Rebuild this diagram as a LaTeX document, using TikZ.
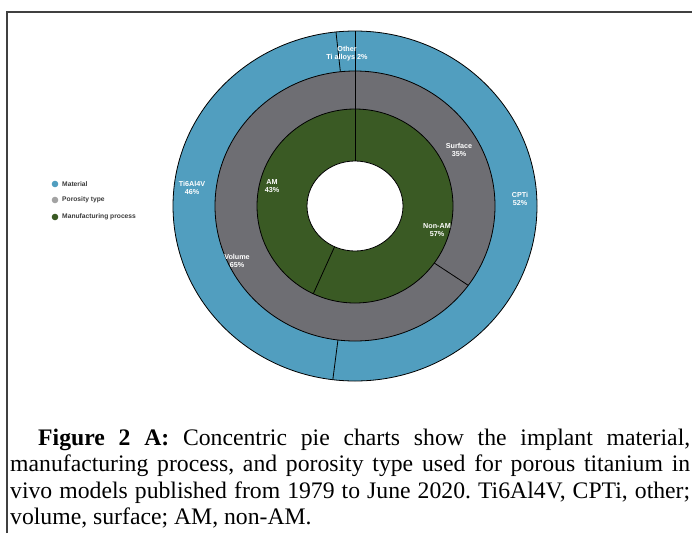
\documentclass[tikz,border=0pt]{standalone}
\usepackage{fontspec}
\setmainfont{Liberation Serif}
\newfontfamily\lsans{Liberation Sans}
\frenchspacing
\definecolor{matblue}{HTML}{519EBF}
\definecolor{porgray}{HTML}{6E6E73}
\definecolor{mangreen}{HTML}{3A5A24}
\definecolor{leggray}{HTML}{A3A3A3}
\definecolor{legtextc}{HTML}{3A3A3A}
\begin{document}
\begin{tikzpicture}[x=1pt,y=-1pt,
  seglabel/.style={text=white,font=\lsans\bfseries\fontsize{7.2}{8.2}\selectfont,align=center,inner sep=0pt},
  legtext/.style={text=legtextc,font=\lsans\bfseries\fontsize{6.7}{7.7}\selectfont,anchor=west,inner sep=0pt},
  legdot/.style={circle,inner sep=0pt,minimum size=6.6pt},
  divider/.style={black,line width=0.8pt},
  ringedge/.style={draw=black,line width=0.8pt},
  frameline/.style={black!75,line width=1.4pt},
  captext/.style={anchor=base west,inner sep=0pt,font=\fontsize{23.7pt}{26.5pt}\selectfont}]
\useasboundingbox (0,0) rectangle (692,533);
% frame
\coordinate (fl) at (7,533);
\coordinate (ftl) at (7,12);
\coordinate (ftr) at (692,12);
\draw[frameline] (fl) -- (ftl) -- (ftr);
% chart
\begin{scope}[shift={(355,206)}]
  \fill[matblue,ringedge] (0pt,0pt) ellipse[x radius=182pt,y radius=175pt];
  \fill[porgray,ringedge] (0pt,0pt) ellipse[x radius=140pt,y radius=135pt];
  \fill[mangreen,ringedge] (0pt,0pt) ellipse[x radius=98pt,y radius=97pt];
  \fill[white,ringedge] (0pt,0pt) ellipse[x radius=48pt,y radius=45pt];
  % material dividers
  \draw[divider] (90:140pt and 135pt) -- (90:182pt and 175pt);
  \draw[divider] (96:140pt and 135pt) -- (96:182pt and 175pt);
  \draw[divider] (-97:140pt and 135pt) -- (-97:182pt and 175pt);
  % porosity dividers
  \draw[divider] (90:98pt and 97pt) -- (90:140pt and 135pt);
  \draw[divider] (-36:98pt and 97pt) -- (-36:140pt and 135pt);
  % manufacturing dividers
  \draw[divider] (90:48pt and 45pt) -- (90:98pt and 97pt);
  \draw[divider] (-115.2:48pt and 45pt) -- (-115.2:98pt and 97pt);
\end{scope}
% segment labels
\node[seglabel] (lother) at (347,54) {Other\\Ti alloys 2\%};
\node[seglabel] (lti) at (192,188) {Ti6Al4V\\46\%};
\node[seglabel] (lcpti) at (520,199) {CPTi\\52\%};
\node[seglabel] (lsurf) at (459,150) {Surface\\35\%};
\node[seglabel] (lvol) at (237,261) {Volume\\65\%};
\node[seglabel] (lam) at (272,186) {AM\\43\%};
\node[seglabel] (lnonam) at (437,230) {Non-AM\\57\%};
% legend
\node[legdot,fill=matblue] (d1) at (55,184) {};
\node[legdot,fill=leggray] (d2) at (55,200) {};
\node[legdot,fill=mangreen] (d3) at (55,217) {};
\node[legtext] (t1) at (62,184) {Material};
\node[legtext] (t2) at (62,200) {Porosity type};
\node[legtext] (t3) at (62,217) {Manufacturing process};
% caption
\node[captext] (c1) at (38,445) {\makebox[652pt][s]{\textbf{Figure 2 A:} Concentric pie charts show the implant material,}};
\node[captext] (c2) at (10,471.5) {\makebox[680pt][s]{manufacturing process, and porosity type used for porous titanium in}};
\node[captext] (c3) at (10,498) {\makebox[680pt][s]{vivo models published from 1979 to June 2020. Ti6Al4V, CPTi, other;}};
\node[captext] (c4) at (10,524.5) {volume, surface; AM, non-AM.};
\end{tikzpicture}
\end{document}
